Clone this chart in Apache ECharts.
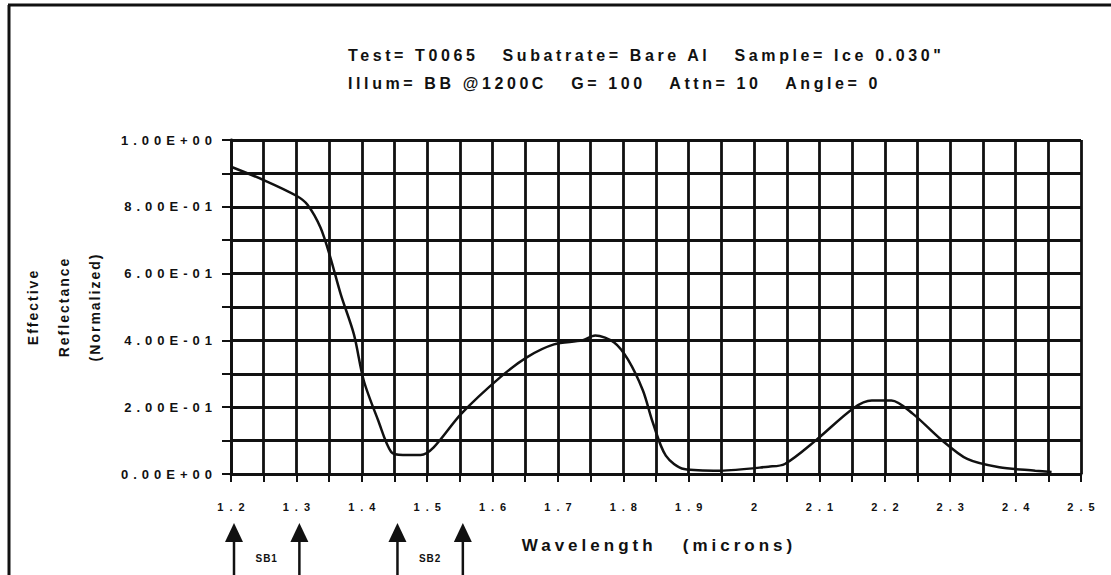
<!DOCTYPE html>
<html>
<head>
<meta charset="utf-8">
<title>reflectance</title>
<script src="https://cdn.jsdelivr.net/npm/echarts@6/dist/echarts.min.js"></script>
<style>
  html, body { margin: 0; padding: 0; background: #fff; }
  #chart { width: 1111px; height: 575px; }
  #chart text { white-space: pre; }
  #chart text[style*="16px"] { letter-spacing: 3.6px; }
  #chart text[style*="13px"] { letter-spacing: 5px; }
  #chart text[style*="11px"] { letter-spacing: 6px; }
  #chart text[style*="17px"] { letter-spacing: 4px; }
  #chart text[style*="14px"] { letter-spacing: 2px; }
  #chart text[style*="10px"] { letter-spacing: 1px; }
</style>
</head>
<body>
<div id="chart"></div>
<script type="text/javascript">

// wavelength (microns) / effective reflectance
const wavelength = [1.2, 1.25, 1.3, 1.317, 1.337, 1.352, 1.368, 1.388, 1.403, 1.425, 1.445, 1.463, 1.49, 1.51, 1.552,
  1.612, 1.653, 1.694, 1.737, 1.757, 1.786, 1.807, 1.83, 1.845, 1.865, 1.893, 1.948, 2.022, 2.047,
  2.094, 2.152, 2.18, 2.21, 2.243, 2.285, 2.326, 2.375, 2.43, 2.455];
const reflectance = [0.92, 0.88, 0.833, 0.806, 0.737, 0.648, 0.537, 0.418, 0.28, 0.161, 0.066, 0.057, 0.057, 0.08, 0.18,
  0.29, 0.35, 0.388, 0.40, 0.415, 0.394, 0.343, 0.25, 0.155, 0.055, 0.015, 0.01, 0.022, 0.03,
  0.10, 0.197, 0.22, 0.22, 0.18, 0.105, 0.045, 0.02, 0.01, 0.006];

const xTickLabels = [1.2, 1.3, 1.4, 1.5, 1.6, 1.7, 1.8, 1.9, 2.0, 2.1, 2.2, 2.3, 2.4, 2.5];
const yTickLabels = [0, 0.2, 0.4, 0.6, 0.8, 1.0];

// spectral band markers
const bandArrows = [1.2, 1.3, 1.45, 1.55];
const bandNames = ['SB1', 'SB2'];
const bandCentres = [1.25, 1.5];

const titleLines = [
  'Test= T0065   Subatrate= Bare Al   Sample= Ice 0.030"',
  'Illum= BB @1200C   G= 100   Attn= 10   Angle= 0'
];

const INK = '#111';
const FONT = '"Liberation Sans", Arial, sans-serif';

const isLabel = function(v, list){
  return list.some(function(t){ return Math.abs(t - v) < 1e-6; });
};
const sci = function(v){
  return v.toExponential(2).toUpperCase().replace(/E([+-])(\d)$/, 'E$10$2');
};

const chart = echarts.init(document.getElementById('chart'), null, {renderer: 'svg'});

const option = {
  animation: false,
  backgroundColor: '#fff',
  title: {
    text: titleLines.join('\n'),
    left: 343,
    top: 36,
    textStyle: {fontFamily: FONT, fontWeight: 'bold', fontSize: 16, color: INK, lineHeight: 28}
  },
  graphic: [
    {type: 'line', shape: {x1: 8, y1: 5, x2: 1111, y2: 5}, style: {stroke: INK, lineWidth: 3}},
    {type: 'line', shape: {x1: 9, y1: 5, x2: 9, y2: 575}, style: {stroke: INK, lineWidth: 3}}
  ],
  grid: {left: 231, right: 30, top: 140, bottom: 101, show: false},
  xAxis: {
    type: 'value',
    min: 1.2, max: 2.5, interval: 0.05,
    name: 'Wavelength   (microns)',
    nameLocation: 'middle',
    nameGap: 63,
    nameTextStyle: {fontFamily: FONT, fontWeight: 'bold', fontSize: 17, color: INK, padding: [0, 0, 0, 6]},
    axisLine: {show: true, onZero: false, lineStyle: {color: INK, width: 2.8}},
    axisTick: {show: true, length: 8, lineStyle: {color: INK, width: 2}},
    axisLabel: {
      margin: 27,
      padding: [0, 0, 0, 6],
      fontFamily: FONT, fontWeight: 'bold', fontSize: 11, color: INK,
      showMinLabel: true, showMaxLabel: true, hideOverlap: false,
      formatter: function(v){ return isLabel(v, xTickLabels) ? String(+v.toFixed(2)) : ''; }
    },
    splitLine: {show: true, lineStyle: {color: INK, width: 2.8}}
  },
  yAxis: {
    type: 'value',
    min: 0, max: 1, interval: 0.1,
    name: 'Effective\nReflectance\n(Normalized)',
    nameLocation: 'middle',
    nameRotate: 90,
    nameGap: 121,
    nameTextStyle: {fontFamily: FONT, fontWeight: 'bold', fontSize: 14, color: INK, lineHeight: 31},
    axisLine: {show: true, lineStyle: {color: INK, width: 2.8}},
    axisTick: {show: true, length: 9, lineStyle: {color: INK, width: 2}},
    axisLabel: {
      margin: 14,
      fontFamily: FONT, fontWeight: 'bold', fontSize: 13, color: INK,
      showMinLabel: true, showMaxLabel: true, hideOverlap: false,
      formatter: function(v){ return isLabel(v, yTickLabels) ? sci(v) : ''; }
    },
    splitLine: {show: true, lineStyle: {color: INK, width: 2.8}}
  },
  series: [
    {
      type: 'line',
      data: wavelength.map(function(x, i){ return [x, reflectance[i]]; }),
      smooth: 0.3,
      showSymbol: false,
      lineStyle: {color: INK, width: 2.5},
      z: 5
    },
    {
      // arrows under the axis
      type: 'custom',
      clip: false,
      silent: true,
      data: bandArrows.map(function(x){ return [x, 0]; }),
      renderItem: function(params, api){
        const p = api.coord([api.value(0), 0]);
        const x = p[0] + 3, y = p[1];
        return {
          type: 'group',
          children: [
            {type: 'line', shape: {x1: x, y1: y + 62, x2: x, y2: y + 110},
              style: {stroke: INK, lineWidth: 2.5}},
            {type: 'polygon', shape: {points: [[x, y + 49], [x - 9, y + 68], [x + 9, y + 68]]},
              style: {fill: INK}}
          ]
        };
      }
    },
    {
      type: 'custom',
      clip: false,
      silent: true,
      data: bandCentres.map(function(x, i){ return [x, 0, bandNames[i]]; }),
      renderItem: function(params, api){
        const p = api.coord([api.value(0), 0]);
        return {
          type: 'text',
          x: p[0] + 3, y: p[1] + 84,
          style: {text: bandNames[params.dataIndex], fill: INK, font: 'bold 10px ' + FONT,
            textAlign: 'center', textVerticalAlign: 'middle'}
        };
      }
    }
  ]
};

chart.setOption(option);
</script>
</body>
</html>
